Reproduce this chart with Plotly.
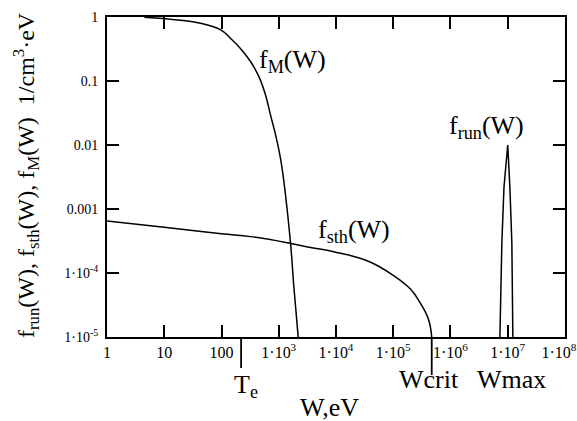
import plotly.graph_objects as go

# ---- data ----
fM_W = [4.5, 17, 43, 97, 145, 216, 323, 450, 589, 720, 880, 1072, 1228, 1607, 1832, 2186]
fM_val = [0.99, 0.90, 0.80, 0.63, 0.46, 0.32, 0.20, 0.117, 0.060, 0.029, 0.0144, 0.0062,
          0.0027, 2.9e-4, 6.2e-5, 1.0e-5]

fsth_W = [1, 10, 100, 323, 1607, 3600, 9100, 35000, 1e5, 2e5, 2.96e5, 4.12e5, 4.7e5]
fsth_val = [6.5e-4, 5.2e-4, 4.1e-4, 3.7e-4, 2.9e-4, 2.5e-4, 2.15e-4, 1.55e-4, 9.2e-5,
            5.6e-5, 3.4e-5, 1.9e-5, 1.0e-5]

frun_W = [7.3e6, 7.9e6, 8.6e6, 1.0e7, 1.09e7, 1.18e7, 1.23e7]
frun_val = [1e-5, 3e-4, 2.2e-3, 1e-2, 2.2e-3, 3e-4, 1e-5]

Te = 220
Wcrit = 4.7e5

x_tickvals = [1, 10, 100, 1e3, 1e4, 1e5, 1e6, 1e7, 1e8]
x_ticktext = ["1", "10", "100", "1·10<sup>3</sup>", "1·10<sup>4</sup>", "1·10<sup>5</sup>",
              "1·10<sup>6</sup>", "1·10<sup>7</sup>", "1·10<sup>8</sup>\u00a0\u00a0\u00a0"]
y_tickvals = [1, 0.1, 0.01, 0.001, 1e-4, 1e-5]
y_ticktext = ["1", "0.1", "0.01", "0.001", "1·10<sup>-4</sup>", "1·10<sup>-5</sup>"]

FONT = "Liberation Serif"

fig = go.Figure()
smooth = dict(color="black", width=1.5, shape="spline", smoothing=1.2)
fig.add_trace(go.Scatter(x=fM_W, y=fM_val, mode="lines", line=smooth))
fig.add_trace(go.Scatter(x=fsth_W, y=fsth_val, mode="lines", line=smooth))
fig.add_trace(go.Scatter(x=frun_W, y=frun_val, mode="lines",
                         line=dict(color="black", width=1.5)))

L, R, T, B = 107, 12, 17, 84
W_, H_ = 577, 421
pw, ph = W_ - L - R, H_ - T - B

def px(x):
    return (x - L) / pw

def py(y):
    return (H_ - B - y) / ph

axis_common = dict(showgrid=False, zeroline=False, showline=True, linecolor="black",
                   linewidth=2, mirror="ticks", ticks="inside", ticklen=12,
                   tickwidth=1.5, tickcolor="black", automargin=False)

fig.update_xaxes(type="log", range=[-0.0005, 8.0005], tickvals=x_tickvals, ticktext=x_ticktext,
                 tickfont=dict(family=FONT, size=16, color="black"),
                 ticklabeloverflow="allow", **axis_common)
fig.update_yaxes(type="log", range=[-5.0003, 0.0003], tickvals=y_tickvals, ticktext=y_ticktext,
                 tickfont=dict(family=FONT, size=14, color="black"),
                 ticklabelstandoff=4, **axis_common)

fig.add_shape(type="line", xref="x", yref="paper", x0=Te, x1=Te, y0=0, y1=py(368),
              line=dict(color="black", width=1.8))
fig.add_shape(type="line", xref="x", yref="paper", x0=Wcrit, x1=Wcrit, y0=0, y1=py(375),
              line=dict(color="black", width=1.8))

big = dict(family=FONT, size=26, color="black")
ann = [
    dict(text="f<sub>M</sub>(W)", x=px(257), y=py(61), xanchor="left", yanchor="middle"),
    dict(text="f<sub>run</sub>(W)", x=px(447), y=py(127), xanchor="left", yanchor="middle"),
    dict(text="f<sub>sth</sub>(W)", x=px(316), y=py(231), xanchor="left", yanchor="middle"),
    dict(text="T<sub>e</sub>", x=px(232), y=py(386), xanchor="left", yanchor="middle"),
    dict(text="Wcrit", x=px(429), y=py(379), xanchor="center", yanchor="middle"),
    dict(text="Wmax", x=px(511), y=py(379), xanchor="center", yanchor="middle"),
    dict(text="W,eV", x=px(329), y=py(407), xanchor="center", yanchor="middle"),
]
for a in ann:
    fig.add_annotation(xref="paper", yref="paper", showarrow=False, font=big, **a)

fig.add_annotation(xref="paper", yref="paper", showarrow=False,
                   text="f<sub>run</sub>(W), f<sub>sth</sub>(W), f<sub>M</sub>(W)  1/cm<sup>3</sup>·eV",
                   x=px(26), y=py(175), xanchor="center", yanchor="middle", textangle=-90,
                   font=dict(family=FONT, size=24, color="black"))

fig.update_layout(width=W_, height=H_, margin=dict(l=L, r=R, t=T, b=B),
                  paper_bgcolor="white", plot_bgcolor="white", showlegend=False)

fig.write_html("out.html", config={"displayModeBar": False},
               post_script="document.body.style.margin='0';")
